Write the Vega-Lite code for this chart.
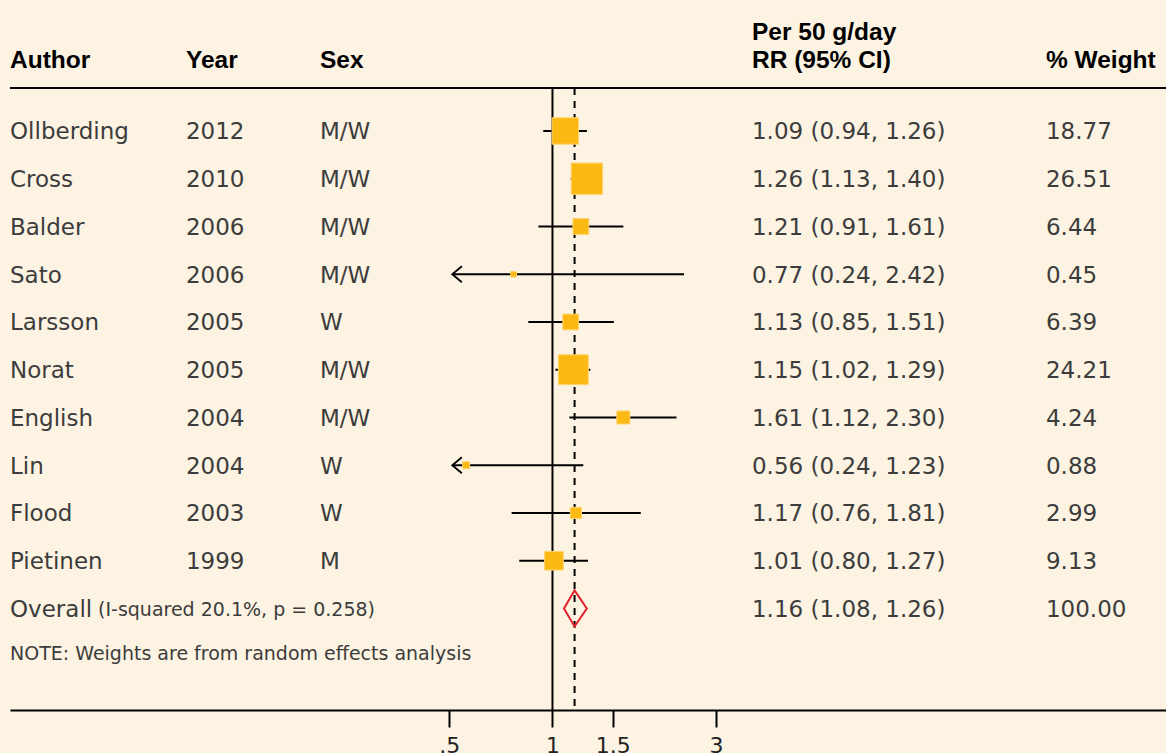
{
  "$schema": "https://vega.github.io/schema/vega-lite/v6.json",
  "width": 1156,
  "height": 622,
  "autosize": {"type": "none"},
  "padding": {"left": 10, "top": 88, "right": 0, "bottom": 43},
  "background": "#FDF3E3",
  "config": {
    "view": {"stroke": null},
    "axisX": {"grid": false, "domainColor": "#000", "domainWidth": 2, "tickColor": "#000", "tickWidth": 2, "tickSize": 17, "labelFont": "DejaVu Sans", "labelFontSize": 22, "labelColor": "#222", "labelPadding": 8, "labelFlush": false, "labelOverlap": false},
    "text": {"font": "DejaVu Sans", "fontSize": 23, "color": "#3c3c3c", "align": "left", "baseline": "middle", "dy": 1.5}
  },
  "datasets": {
    "rows": [
      {"author": "Ollberding", "year": "2012", "sex": "M/W", "rr": 1.09, "lo": 0.94, "hi": 1.26, "ci": "1.09 (0.94, 1.26)", "weight": 18.77, "row": 1, "kind": "study"},
      {"author": "Cross", "year": "2010", "sex": "M/W", "rr": 1.26, "lo": 1.13, "hi": 1.40, "ci": "1.26 (1.13, 1.40)", "weight": 26.51, "row": 2, "kind": "study"},
      {"author": "Balder", "year": "2006", "sex": "M/W", "rr": 1.21, "lo": 0.91, "hi": 1.61, "ci": "1.21 (0.91, 1.61)", "weight": 6.44, "row": 3, "kind": "study"},
      {"author": "Sato", "year": "2006", "sex": "M/W", "rr": 0.77, "lo": 0.24, "hi": 2.42, "ci": "0.77 (0.24, 2.42)", "weight": 0.45, "row": 4, "kind": "study", "lo_shown": 0.51},
      {"author": "Larsson", "year": "2005", "sex": "W", "rr": 1.13, "lo": 0.85, "hi": 1.51, "ci": "1.13 (0.85, 1.51)", "weight": 6.39, "row": 5, "kind": "study"},
      {"author": "Norat", "year": "2005", "sex": "M/W", "rr": 1.15, "lo": 1.02, "hi": 1.29, "ci": "1.15 (1.02, 1.29)", "weight": 24.21, "row": 6, "kind": "study"},
      {"author": "English", "year": "2004", "sex": "M/W", "rr": 1.61, "lo": 1.12, "hi": 2.30, "ci": "1.61 (1.12, 2.30)", "weight": 4.24, "row": 7, "kind": "study"},
      {"author": "Lin", "year": "2004", "sex": "W", "rr": 0.56, "lo": 0.24, "hi": 1.23, "ci": "0.56 (0.24, 1.23)", "weight": 0.88, "row": 8, "kind": "study", "lo_shown": 0.51},
      {"author": "Flood", "year": "2003", "sex": "W", "rr": 1.17, "lo": 0.76, "hi": 1.81, "ci": "1.17 (0.76, 1.81)", "weight": 2.99, "row": 9, "kind": "study"},
      {"author": "Pietinen", "year": "1999", "sex": "M", "rr": 1.01, "lo": 0.80, "hi": 1.27, "ci": "1.01 (0.80, 1.27)", "weight": 9.13, "row": 10, "kind": "study"},
      {"author": "Overall", "het": "(I-squared 20.1%, p = 0.258)", "rr": 1.16, "lo": 1.08, "hi": 1.26, "ci": "1.16 (1.08, 1.26)", "weight": 100, "row": 11, "kind": "overall"}
    ]
  },
  "layer": [
    {
      "data": {"values": [{"line": "header"}]},
      "mark": {"type": "rule", "color": "#000", "strokeWidth": 2},
      "encoding": {"y": {"datum": 0.1, "type": "quantitative", "axis": null}}
    },
    {
      "data": {"values": [{"line": "null effect"}]},
      "mark": {"type": "rule", "color": "#000", "strokeWidth": 2},
      "encoding": {"x": {"datum": 1, "type": "quantitative"}}
    },
    {
      "data": {"name": "rows"},
      "transform": [{"filter": "datum.kind == 'overall'"}],
      "mark": {"type": "rule", "color": "#000", "strokeWidth": 2, "strokeDash": [7, 6]},
      "encoding": {"x": {"field": "rr", "type": "quantitative"}}
    },
    {
      "data": {"name": "rows"},
      "transform": [{"filter": "datum.kind == 'study' && !isValid(datum.lo_shown)"}],
      "mark": {"type": "rule", "color": "#000", "strokeWidth": 1.8},
      "encoding": {
        "x": {"field": "lo", "type": "quantitative"},
        "x2": {"field": "hi"},
        "y": {"field": "row", "type": "quantitative", "axis": null}
      }
    },
    {
      "data": {"name": "rows"},
      "transform": [{"filter": "isValid(datum.lo_shown)"}],
      "mark": {"type": "rule", "color": "#000", "strokeWidth": 1.8},
      "encoding": {
        "x": {"field": "lo_shown", "type": "quantitative"},
        "x2": {"field": "hi"},
        "y": {"field": "row", "type": "quantitative", "axis": null}
      }
    },
    {
      "data": {"name": "rows"},
      "transform": [{"filter": "isValid(datum.lo_shown)"}],
      "mark": {"type": "point", "shape": "M1.2,-1L0,0L1.2,1", "size": 256, "filled": false, "stroke": "#000", "strokeWidth": 1.8, "opacity": 1},
      "encoding": {
        "x": {"field": "lo_shown", "type": "quantitative"},
        "y": {"field": "row", "type": "quantitative", "axis": null}
      }
    },
    {
      "data": {"name": "rows"},
      "transform": [{"filter": "datum.kind == 'study'"}],
      "mark": {"type": "square", "filled": true, "color": "#FDB913", "stroke": "#FFD46E", "strokeWidth": 1, "opacity": 1},
      "encoding": {
        "x": {
          "field": "rr", "type": "quantitative",
          "scale": {"type": "log", "domain": [0.02613, 61.68], "nice": false},
          "axis": {
            "values": [0.5, 1, 1.5, 3],
            "labelExpr": "datum.value == 0.5 ? '.5' : toString(datum.value)",
            "title": null
          }
        },
        "y": {
          "field": "row", "type": "quantitative",
          "scale": {"domain": [0.1, 13.126], "reverse": true, "nice": false, "zero": false},
          "axis": null
        },
        "size": {"field": "weight", "type": "quantitative", "scale": {"type": "linear", "domain": [0, 26.51], "range": [16, 980]}, "legend": null}
      }
    },
    {
      "data": {"name": "rows"},
      "transform": [{"filter": "datum.kind == 'overall'"}],
      "mark": {"type": "point", "shape": "M-0.59,0L0,-1L0.68,0L0,1Z", "size": 1296, "filled": false, "stroke": "#E3202A", "strokeWidth": 2, "opacity": 1},
      "encoding": {
        "x": {"field": "rr", "type": "quantitative"},
        "y": {"field": "row", "type": "quantitative", "axis": null}
      }
    },
    {
      "data": {"name": "rows"},
      "mark": {"type": "text"},
      "encoding": {
        "x": {"datum": 0.02613, "type": "quantitative"},
        "y": {"field": "row", "type": "quantitative", "axis": null},
        "text": {"field": "author", "type": "nominal"}
      }
    },
    {
      "data": {"name": "rows"},
      "transform": [{"filter": "datum.kind == 'study'"}],
      "mark": {"type": "text"},
      "encoding": {
        "x": {"datum": 0.0852, "type": "quantitative"},
        "y": {"field": "row", "type": "quantitative", "axis": null},
        "text": {"field": "year", "type": "nominal"}
      }
    },
    {
      "data": {"name": "rows"},
      "transform": [{"filter": "datum.kind == 'study'"}],
      "mark": {"type": "text"},
      "encoding": {
        "x": {"datum": 0.2097, "type": "quantitative"},
        "y": {"field": "row", "type": "quantitative", "axis": null},
        "text": {"field": "sex", "type": "nominal"}
      }
    },
    {
      "data": {"name": "rows"},
      "mark": {"type": "text"},
      "encoding": {
        "x": {"datum": 3.82, "type": "quantitative"},
        "y": {"field": "row", "type": "quantitative", "axis": null},
        "text": {"field": "ci", "type": "nominal"}
      }
    },
    {
      "data": {"name": "rows"},
      "mark": {"type": "text"},
      "encoding": {
        "x": {"datum": 27.53, "type": "quantitative"},
        "y": {"field": "row", "type": "quantitative", "axis": null},
        "text": {"field": "weight", "type": "quantitative", "format": ".2f"}
      }
    },
    {
      "data": {"name": "rows"},
      "transform": [{"filter": "datum.kind == 'overall'"}],
      "mark": {"type": "text", "fontSize": 19},
      "encoding": {
        "x": {"datum": 0.0472, "type": "quantitative"},
        "y": {"field": "row", "type": "quantitative", "axis": null},
        "text": {"field": "het", "type": "nominal"}
      }
    },
    {
      "data": {"values": [{"note": "NOTE: Weights are from random effects analysis"}]},
      "mark": {"type": "text", "fontSize": 19},
      "encoding": {
        "x": {"datum": 0.02613, "type": "quantitative"},
        "y": {"datum": 11.93, "type": "quantitative", "axis": null},
        "text": {"field": "note", "type": "nominal"}
      }
    },
    {
      "data": {"values": [{"h": "Author", "c": 0.02613}, {"h": "Year", "c": 0.0852}, {"h": "Sex", "c": 0.2097}, {"h": "RR (95% CI)", "c": 3.82}, {"h": "% Weight", "c": 27.53}]},
      "mark": {"type": "text", "font": "Liberation Sans", "fontWeight": "bold", "fontSize": 24.5, "color": "#000", "baseline": "alphabetic", "dy": 0},
      "encoding": {
        "x": {"field": "c", "type": "quantitative"},
        "y": {"datum": -0.3127, "type": "quantitative", "axis": null},
        "text": {"field": "h", "type": "nominal"}
      }
    },
    {
      "data": {"values": [{"h": "Per 50 g/day"}]},
      "mark": {"type": "text", "font": "Liberation Sans", "fontWeight": "bold", "fontSize": 24.5, "color": "#000", "baseline": "alphabetic", "dy": 0},
      "encoding": {
        "x": {"datum": 3.82, "type": "quantitative"},
        "y": {"datum": -0.905, "type": "quantitative", "axis": null},
        "text": {"field": "h", "type": "nominal"}
      }
    }
  ]
}
